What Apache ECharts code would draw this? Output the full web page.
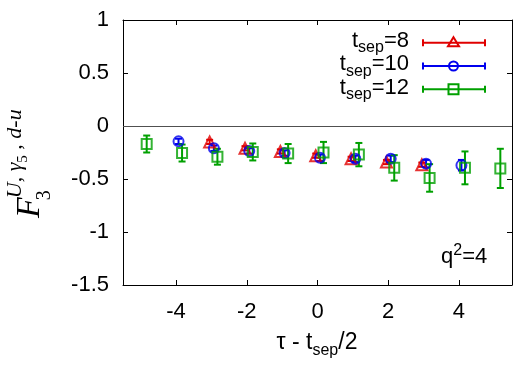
<!DOCTYPE html>
<html>
<head>
<meta charset="utf-8">
<script src="https://cdn.jsdelivr.net/npm/echarts@6/dist/echarts.min.js"></script>
<style>
html,body{margin:0;padding:0;background:#fff;}
#chart{width:525px;height:367px;}
</style>
</head>
<body>
<div id="chart"></div>
<script>
// ---- data ----
const tau8  = [-3, -2, -1, 0, 1, 2, 3];
const val8  = [-0.15, -0.21, -0.24, -0.28, -0.31, -0.34, -0.365];
const err8  = [0.02, 0.02, 0.02, 0.02, 0.02, 0.02, 0.02];
const shift8 = -0.05;

const tau10 = [-4, -3, -2, -1, 0, 1, 2, 3, 4];
const val10 = [-0.145, -0.21, -0.235, -0.255, -0.30, -0.31, -0.31, -0.355, -0.37];
const err10 = [0.025, 0.025, 0.025, 0.025, 0.03, 0.03, 0.03, 0.035, 0.05];
const shift10 = 0.07;

const tau12 = [-5, -4, -3, -2, -1, 0, 1, 2, 3, 4, 5];
const val12 = [-0.17, -0.255, -0.29, -0.245, -0.26, -0.25, -0.27, -0.395, -0.49, -0.395, -0.40];
const err12 = [0.08, 0.08, 0.075, 0.08, 0.09, 0.10, 0.11, 0.12, 0.13, 0.155, 0.185];
const shift12 = 0.17;

const xTickValues = [-4, -2, 0, 2, 4];
const yTickValues = [-1.5, -1, -0.5, 0, 0.5, 1];
const legendTsep = ['8', '10', '12'];

// ---- styles ----
const C_RED = '#e00000', C_BLUE = '#0000ee', C_GREEN = '#00a000';
const SANS = '"Liberation Sans", Arial, sans-serif';
const SERIF = '"Liberation Serif", "DejaVu Serif", serif';
const FS = 22, FSUB = 16;

const mctx = document.createElement('canvas').getContext('2d');
function tw(t, size, fam, style) {
  mctx.font = (style || 'normal') + ' ' + size + 'px ' + fam;
  return mctx.measureText(t).width;
}
function composeText(x0, yBase, pieces, color, alignRight) {
  let total = 0;
  const widths = pieces.map(p => tw(p.t, p.size, p.fam || SANS, p.style));
  pieces.forEach((p, i) => { if (!p.stack) total += widths[i] + (p.dx || 0); });
  let x = alignRight ? x0 - total : x0;
  const out = [];
  pieces.forEach((p, i) => {
    const px = p.at !== undefined ? x0 + p.at : x + (p.dx || 0);
    out.push({
      type: 'text', x: px, y: yBase + (p.dy || 0) - 0.35 * p.size,
      style: {
        text: p.t, fill: color || '#000',
        font: (p.style || 'normal') + ' ' + p.size + 'px ' + (p.fam || SANS),
        textAlign: 'left', textVerticalAlign: 'middle'
      },
      silent: true
    });
    if (!p.stack) x = px + widths[i];
  });
  return out;
}

function makeXY(tau, val, err, shift) {
  return tau.map((t, i) => [t + shift, val[i], err[i]]);
}
const d8 = makeXY(tau8, val8, err8, shift8);
const d10 = makeXY(tau10, val10, err10, shift10);
const d12 = makeXY(tau12, val12, err12, shift12);

function errRender(color) {
  return function (params, api) {
    const x = api.value(0), y = api.value(1), e = api.value(2);
    const p1 = api.coord([x, y + e]), p2 = api.coord([x, y - e]);
    const cap = 3.5;
    const st = { stroke: color, lineWidth: 2 };
    return {
      type: 'group', children: [
        { type: 'line', shape: { x1: p1[0], y1: p1[1], x2: p2[0], y2: p2[1] }, style: st },
        { type: 'line', shape: { x1: p1[0] - cap, y1: p1[1], x2: p1[0] + cap, y2: p1[1] }, style: st },
        { type: 'line', shape: { x1: p2[0] - cap, y1: p2[1], x2: p2[0] + cap, y2: p2[1] }, style: st }
      ]
    };
  };
}

function seriesPair(data, color, symbol, size) {
  return [
    { type: 'custom', renderItem: errRender(color), data: data, encode: { x: 0, y: 1 }, silent: true, z: 2 },
    {
      type: 'scatter', data: data.map(d => [d[0], d[1]]), symbol: symbol, symbolSize: size,
      itemStyle: { color: 'rgba(0,0,0,0)', borderColor: color, borderWidth: 2 }, silent: true, z: 3
    }
  ];
}

const chart = echarts.init(document.getElementById('chart'), null, { renderer: 'canvas' });

// legend graphics
const legendG = [];
const lgColors = [C_RED, C_BLUE, C_GREEN];
const lgRowsBase = [48.5, 72, 95.5];
const lgLineY = [42.7, 66, 89.3];
legendTsep.forEach((v, i) => {
  legendG.push(...composeText(409, lgRowsBase[i], [
    { t: 't', size: FS }, { t: 'sep', size: FSUB, dy: 5 }, { t: '=' + v, size: FS }
  ], '#000', true));
  const y = lgLineY[i], c = lgColors[i];
  const st = { stroke: c, lineWidth: 2 };
  legendG.push({ type: 'line', shape: { x1: 423, y1: y, x2: 485, y2: y }, style: st, silent: true });
  legendG.push({ type: 'line', shape: { x1: 423, y1: y - 3.5, x2: 423, y2: y + 3.5 }, style: st, silent: true });
  legendG.push({ type: 'line', shape: { x1: 485, y1: y - 3.5, x2: 485, y2: y + 3.5 }, style: st, silent: true });
  const mx = 453.5;
  const fillNone = 'rgba(0,0,0,0)';
  if (i === 0) legendG.push({ type: 'polygon', shape: { points: [[mx, y - 5.5], [mx + 5.5, y + 3.5], [mx - 5.5, y + 3.5]] }, style: { fill: fillNone, stroke: c, lineWidth: 2 }, silent: true });
  if (i === 1) legendG.push({ type: 'circle', shape: { cx: mx, cy: y, r: 4.5 }, style: { fill: fillNone, stroke: c, lineWidth: 2 }, silent: true });
  if (i === 2) legendG.push({ type: 'rect', shape: { x: mx - 5, y: y - 5, width: 10, height: 10 }, style: { fill: fillNone, stroke: c, lineWidth: 2 }, silent: true });
});

// q^2=4
const qG = composeText(441, 265, [
  { t: 'q', size: FS }, { t: '2', size: FSUB, dy: -9 }, { t: '=4', size: FS }
], '#000', false);

// x title (centered)
const xParts = [
  { t: 'τ - t', size: 23 }, { t: 'sep', size: FSUB, dy: 5 }, { t: '/2', size: 23 }
];
const xW = xParts.reduce((s, p) => s + tw(p.t, p.size, SANS), 0);
const xTitleG = composeText(317 - xW / 2, 351, xParts, '#000', false);

// y title (rotated)
const wF = tw('F', 34, SERIF, 'italic');
const yTitleChildren = composeText(0, 0, [
  { t: 'F', size: 34, fam: SERIF, style: 'italic' },
  { t: '3', size: 20, fam: SERIF, dy: 10, at: wF - 3, stack: true },
  { t: 'U', size: 22, fam: SERIF, style: 'italic', dy: -19, at: wF - 1 },
  { t: ', ', size: 22, fam: SERIF, dy: -19 },
  { t: 'γ', size: 22, fam: SERIF, style: 'italic', dy: -19 },
  { t: '5', size: 15, fam: SERIF, dy: -14 },
  { t: ' , ', size: 22, fam: SERIF, dy: -19 },
  { t: 'd', size: 22, fam: SERIF, style: 'italic', dy: -19 },
  { t: '-', size: 22, fam: SERIF, dy: -19 },
  { t: 'u', size: 22, fam: SERIF, style: 'italic', dy: -19 }
], '#000', false);
const yTitleG = { type: 'group', x: 42, y: 218, rotation: Math.PI / 2, children: yTitleChildren, silent: true };

const option = {
  animation: false,
  backgroundColor: '#fff',
  grid: { left: 123, right: 13, top: 20, bottom: 82, containLabel: false },
  xAxis: [
    {
      type: 'value', min: -5.5, max: 5.5,
      axisLine: { show: true, onZero: false, lineStyle: { color: '#000', width: 1 } },
      axisTick: { show: true, inside: true, length: 5, customValues: xTickValues, lineStyle: { color: '#000' } },
      axisLabel: { show: true, customValues: xTickValues, margin: 16, fontSize: FS, color: '#000', fontFamily: SANS },
      splitLine: { show: false }
    },
    {
      type: 'value', min: -5.5, max: 5.5, position: 'top',
      axisLine: { show: true, onZero: false, lineStyle: { color: '#000', width: 1 } },
      axisTick: { show: true, inside: true, length: 5, customValues: xTickValues, lineStyle: { color: '#000' } },
      axisLabel: { show: false },
      splitLine: { show: false }
    }
  ],
  yAxis: [
    {
      type: 'value', min: -1.5, max: 1, interval: 0.5,
      axisLine: { show: true, onZero: false, lineStyle: { color: '#000', width: 1 } },
      axisTick: { show: true, inside: true, length: 5, lineStyle: { color: '#000' } },
      axisLabel: { show: true, margin: 14, fontSize: FS, color: '#000', fontFamily: SANS },
      splitLine: { show: false }
    },
    {
      type: 'value', min: -1.5, max: 1, interval: 0.5, position: 'right',
      axisLine: { show: true, onZero: false, lineStyle: { color: '#000', width: 1 } },
      axisTick: { show: true, inside: true, length: 5, lineStyle: { color: '#000' } },
      axisLabel: { show: false },
      splitLine: { show: false }
    }
  ],
  series: [
    {
      type: 'line', data: [], silent: true,
      markLine: { silent: true, symbol: 'none', label: { show: false }, lineStyle: { color: '#505050', width: 1.2, type: 'solid' }, data: [{ yAxis: 0 }] }
    },
    ...seriesPair(d8, C_RED, 'triangle', 11),
    ...seriesPair(d10, C_BLUE, 'circle', 10),
    ...seriesPair(d12, C_GREEN, 'rect', 10)
  ],
  graphic: [...legendG, ...qG, ...xTitleG, yTitleG]
};
chart.setOption(option);
</script>
</body>
</html>
